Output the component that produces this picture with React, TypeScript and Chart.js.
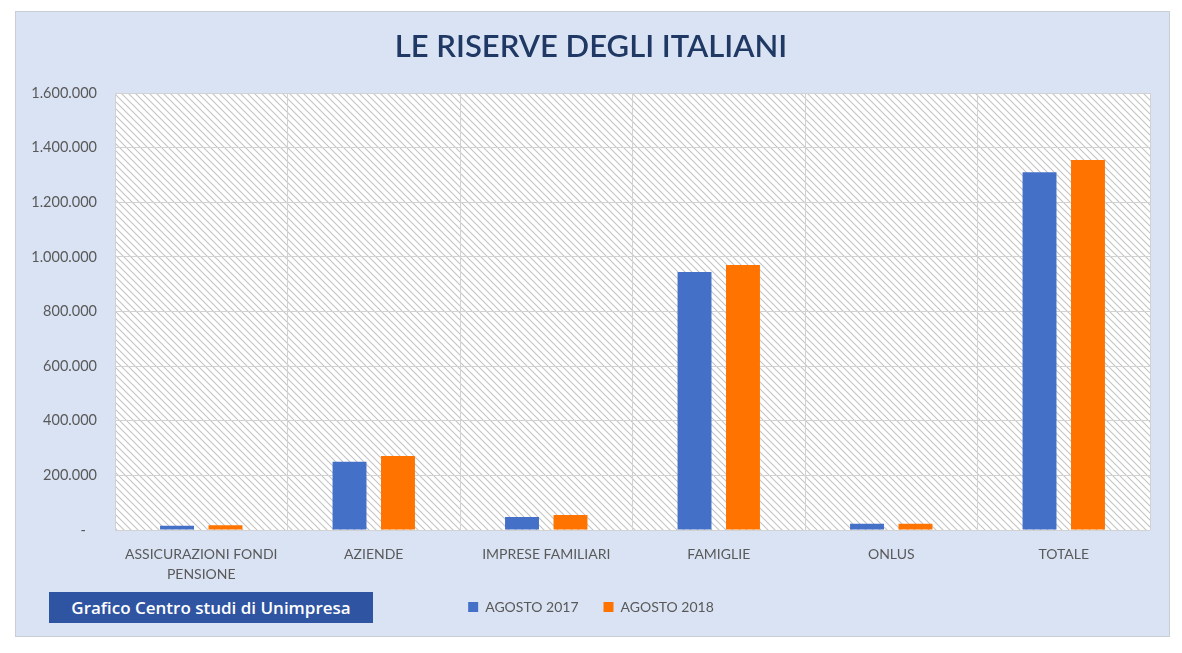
import React, { useEffect, useRef } from "react";
import { Chart, registerables } from "chart.js";

Chart.register(...registerables);

const titleText = "LE RISERVE DEGLI ITALIANI";
const categories: (string | string[])[] = [
  ["ASSICURAZIONI FONDI", "PENSIONE"],
  "AZIENDE",
  "IMPRESE FAMILIARI",
  "FAMIGLIE",
  "ONLUS",
  "TOTALE",
];
const seriesNames = ["AGOSTO 2017", "AGOSTO 2018"];
const agosto2017 = [16000, 250000, 48000, 945000, 23000, 1310000];
const agosto2018 = [17000, 271000, 55000, 970000, 23000, 1355000];
const yMin = 0;
const yMax = 1600000;
const yStep = 200000;
const sourceText = "Grafico Centro studi di Unimpresa";

const BLUE = "#4470c8";
const ORANGE = "#ff7300";
const FONT = "Lato";

function formatIt(v: number): string {
  if (v === 0) return "-   ";
  return String(Math.round(v)).replace(/\B(?=(\d{3})+(?!\d))/g, ".");
}

const hatchPlugin = {
  id: "hatchBg",
  beforeDraw(chart: any) {
    const { ctx, chartArea: a } = chart;
    const s = 7;
    const tile = document.createElement("canvas");
    tile.width = s;
    tile.height = s;
    const t = tile.getContext("2d")!;
    t.fillStyle = "#ffffff";
    t.fillRect(0, 0, s, s);
    t.strokeStyle = "#c4c4c4";
    t.lineWidth = 1.1;
    t.beginPath();
    t.moveTo(-1, -1);
    t.lineTo(s + 1, s + 1);
    t.moveTo(s - 1, -1);
    t.lineTo(2 * s + 1, s + 1);
    t.moveTo(-s - 1, -1);
    t.lineTo(1, s + 1);
    t.stroke();
    const pat = ctx.createPattern(tile, "repeat");
    ctx.save();
    ctx.fillStyle = pat;
    ctx.fillRect(a.left, a.top, a.right - a.left, a.bottom - a.top);
    ctx.restore();
  },
};

// moves the legend row up to sit where the reference legend sits
const legendShiftPlugin = {
  id: "legendShift",
  afterLayout(chart: any) {
    const lg = chart.legend;
    if (!lg) return;
    const dy = lg.top - 575;
    lg.top -= dy;
    lg.bottom -= dy;
  },
};

export default function App() {
  const ref = useRef<HTMLCanvasElement | null>(null);

  useEffect(() => {
    if (!ref.current) return;
    const chart = new Chart(ref.current, {
      type: "bar",
      data: {
        labels: categories,
        datasets: [
          {
            label: seriesNames[0],
            data: agosto2017,
            backgroundColor: BLUE,
            borderWidth: 0,
            categoryPercentage: 0.562,
            barPercentage: 0.7,
          },
          {
            label: seriesNames[1],
            data: agosto2018,
            backgroundColor: ORANGE,
            borderWidth: 0,
            categoryPercentage: 0.562,
            barPercentage: 0.7,
          },
        ],
      },
      options: {
        animation: false,
        responsive: false,
        devicePixelRatio: 1,
        layout: { padding: { left: 32, right: 32, top: 0, bottom: 18 } },
        plugins: {
          title: {
            display: true,
            text: titleText,
            color: "#1f3864",
            font: { family: FONT, size: 31, weight: "600", lineHeight: 1.2 },
            padding: { top: 28, bottom: 27.8 },
          },
          legend: {
            display: true,
            position: "bottom",
            labels: {
              boxWidth: 10,
              boxHeight: 10,
              color: "#595959",
              font: { family: FONT, size: 14 },
              padding: 25,
            },
          },
          tooltip: { enabled: false },
        },
        scales: {
          x: {
            grid: {
              offset: true,
              color: "#d2d2d2",
              drawTicks: false,
            },
            border: { display: false },
            ticks: {
              color: "#595959",
              font: { family: FONT, size: 14, lineHeight: 1.45 },
              padding: 14,
              maxRotation: 0,
              minRotation: 0,
              autoSkip: false,
            },
            afterFit: (scale: any) => {
              scale.height = 56;
            },
          },
          y: {
            min: yMin,
            max: yMax,
            grid: { color: "#d2d2d2", drawTicks: false },
            border: { display: false },
            ticks: {
              stepSize: yStep,
              color: "#595959",
              font: { family: FONT, size: 14.5 },
              padding: 18,
              callback: (v: any) => formatIt(Number(v)),
            },
            afterFit: (scale: any) => {
              scale.width = 83;
            },
          },
        },
      },
      plugins: [hatchPlugin, legendShiftPlugin],
    } as any);
    return () => chart.destroy();
  }, []);

  return (
    <div
      style={{
        position: "absolute",
        left: 0,
        top: 0,
        width: 1182,
        height: 653,
        background: "#ffffff",
        overflow: "hidden",
      }}
    >
      <div
        style={{
          position: "absolute",
          left: 15,
          top: 11,
          width: 1153,
          height: 624,
          background: "#dae3f3",
          border: "1px solid #c9ced6",
        }}
      />
      <canvas
        ref={ref}
        width={1182}
        height={653}
        style={{ position: "absolute", left: 0, top: 0, width: 1182, height: 653 }}
      />
      <div
        style={{
          position: "absolute",
          left: 49,
          top: 592,
          width: 324,
          height: 31,
          background: "#2f54a2",
          color: "#ffffff",
          fontFamily: "'Open Sans'",
          fontWeight: 600,
          fontSize: 17,
          lineHeight: "31px",
          textAlign: "center",
          whiteSpace: "nowrap",
        }}
      >
        {sourceText}
      </div>
    </div>
  );
}
